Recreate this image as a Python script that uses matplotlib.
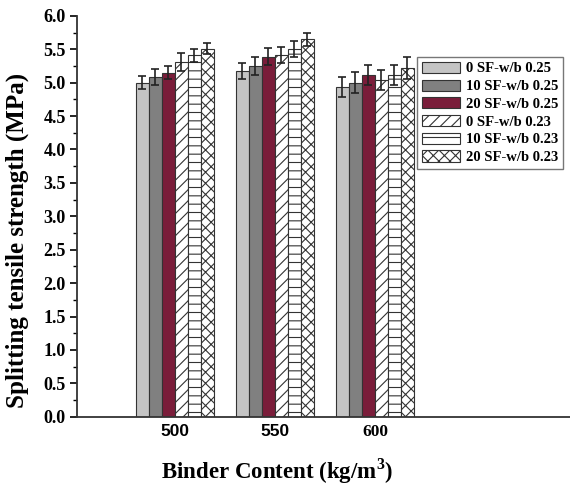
import matplotlib
matplotlib.use("Agg")
import matplotlib.pyplot as plt
import numpy as np

plt.rcParams['hatch.linewidth'] = 0.8
plt.rcParams['mathtext.fontset'] = 'custom'
plt.rcParams['mathtext.rm'] = 'Liberation Serif:bold'
plt.rcParams['mathtext.bf'] = 'Liberation Serif:bold'

categories = ["500", "550", "600"]
series = ["0 SF-w/b 0.25", "10 SF-w/b 0.25", "20 SF-w/b 0.25",
          "0 SF-w/b 0.23", "10 SF-w/b 0.23", "20 SF-w/b 0.23"]
values = [
    [5.00, 5.17, 4.94],
    [5.08, 5.25, 5.00],
    [5.15, 5.39, 5.11],
    [5.31, 5.41, 5.04],
    [5.41, 5.50, 5.11],
    [5.51, 5.65, 5.22],
]
errors = [
    [0.10, 0.12, 0.15],
    [0.12, 0.13, 0.16],
    [0.10, 0.13, 0.15],
    [0.14, 0.12, 0.15],
    [0.10, 0.12, 0.15],
    [0.08, 0.10, 0.16],
]
colors = ["#c4c4c4", "#808080", "#7a1d3a", "white", "white", "white"]
hatches = [None, None, None, "///", "--", "xxx"]

fig = plt.figure(figsize=(5.7, 4.95), dpi=100)
ax = fig.add_axes([0.135, 0.158, 0.865, 0.810])

x = np.arange(len(categories))
w = 0.13
for i in range(6):
    ax.bar(x + (i - 2.5) * w, values[i], w, color=colors[i], edgecolor="#333333",
           linewidth=0.8, hatch=hatches[i], label=series[i],
           yerr=errors[i], capsize=3, error_kw=dict(elinewidth=1.2, capthick=1.2, ecolor="#222222"))

ax.set_xlim(-0.98, 3.95)
ax.set_ylim(0, 6.0)
ax.set_yticks(np.arange(0, 6.01, 0.5))
ax.set_yticks(np.arange(0, 6.01, 0.25), minor=True)
ax.set_yticklabels([f"{v:.1f}" for v in np.arange(0, 6.01, 0.5)],
                   fontfamily="Liberation Serif", fontweight="bold", fontsize=13)
ax.set_xticks(x)
ax.set_xticklabels(categories, fontweight="bold", fontsize=12.5)
labs = ax.get_xticklabels()
for lab in labs[:2]:
    lab.set_fontfamily("Liberation Sans")
labs[2].set_fontfamily("Liberation Serif")
ax.tick_params(axis="x", length=0, pad=5)
ax.tick_params(axis="y", which="major", length=5, width=1.2, direction="out", pad=3)
ax.tick_params(axis="y", which="minor", length=3, width=1.0, direction="out")

for s in ["top", "right"]:
    ax.spines[s].set_visible(False)
for s in ["left", "bottom"]:
    ax.spines[s].set_linewidth(1.3)
    ax.spines[s].set_color("#333333")

ax.set_ylabel("Splitting tensile strength (MPa)", fontfamily="Liberation Serif",
              fontweight="bold", fontsize=18, va="center")
ax.yaxis.set_label_coords(-0.122, 0.439)
ax.set_xlabel("Binder Content (kg/m$^{3}$)", fontfamily="Liberation Serif",
              fontweight="bold", fontsize=16.5, va="center")
ax.xaxis.set_label_coords(0.406, -0.135)

leg = ax.legend(loc="upper right", bbox_to_anchor=(0.986, 0.898),
                prop=dict(family="Liberation Serif", weight="bold", size=10.5),
                frameon=True, fancybox=False, edgecolor="#555555",
                handlelength=2.6, handleheight=0.8, labelspacing=0.28,
                borderpad=0.35, handletextpad=0.4, borderaxespad=0)
leg.get_frame().set_linewidth(1.0)
leg._legend_box.align = "right"
for t in leg.get_texts():
    t.set_ha("right")

fig.savefig("out.png", dpi=100, facecolor="white")
